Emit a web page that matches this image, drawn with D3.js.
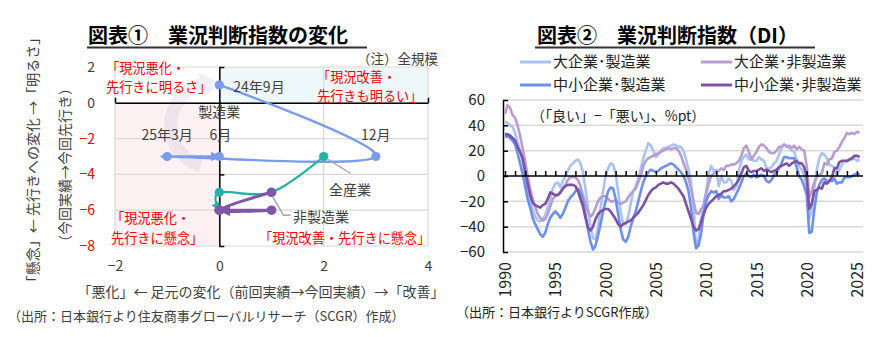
<!DOCTYPE html>
<html>
<head>
<meta charset="utf-8">
<script src="https://cdn.jsdelivr.net/npm/d3@7"></script>
<style>
  body { margin: 0; background: #fff; }
  svg text { font-family: "Noto Sans CJK JP", "Noto Sans", sans-serif; }
</style>
</head>
<body>
<svg id="chart" width="885" height="337"></svg>
<script>
// ---------- 図表① data: change in DI (x: current change, y: outlook change) ----------
const periods = ["24年9月", "12月", "25年3月", "6月"];
const mfgNow = [0, 3, -1, 0];
const mfgAhead = [1, -3, -3, -3];
const allNow = [2, 1, 0, 0];
const allAhead = [-3, -5, -5, -6];
const nonMfgNow = [1, 0, 1, 0];
const nonMfgAhead = [-5, -6, -6, -6];
const leftXTicks = [-2, 0, 2, 4];
const leftYTicks = [2, 0, -2, -4, -6, -8];

// ---------- 図表② data: quarterly business conditions DI, 1990Q1 - 2025Q2 ----------
const firstYear = 1990;
const largeMfg = [
  43, 42, 40, 39,   34, 27, 20, 12,   1, -10, -19, -26,   -32, -35, -36, -34,
  -31, -25, -18, -10,   -6, -5, -9, -4,   0, 4, 8, 10,   12, 13, 10, 3,
  -10, -25, -40, -49,   -50, -40, -25, -12,   0, 6, 10, 9,   2, -12, -28, -38,
  -38, -32, -22, -12,   -8, -2, 6, 14,   20, 26, 24, 20,   15, 17, 20, 22,
  22, 23, 24, 25,   24, 23, 23, 20,   13, 5, -5, -24,   -57, -50, -33, -22,
  -12, 2, 8, 4,   5, -8, 0, -5,   -5, -2, -4, -11,   -8, 4, 12, 15,
  17, 13, 13, 12,   12, 15, 13, 12,   6, 6, 7, 10,   12, 17, 22, 25,
  24, 22, 20, 19,   13, 8, 5, 0,   -8, -34, -27, -10,   5, 14, 18, 17,
  14, 9, 8, 7,   1, 5, 9, 12,   11, 13, 13, 14,   12, 13
];
const largeNonMfg = [
  49, 56, 54, 48,   46, 40, 32, 22,   12, 0, -10, -18,   -24, -30, -33, -35,
  -34, -30, -24, -18,   -16, -15, -13, -10,   -7, -3, -1, -1,   -1, -3, -8, -15,
  -22, -28, -32, -30,   -25, -20, -17, -16,   -16, -18, -20, -20,   -19, -21, -22, -21,
  -20, -17, -14, -12,   -10, -5, 0, 8,   12, 14, 15, 16,   17, 18, 19, 20,
  21, 22, 21, 22,   22, 20, 16, 10,   5, -2, -10, -20,   -29, -30, -26, -24,
  -14, -6, 0, 2,   3, 4, 6, 5,   8, 8, 9, 9,   10, 12, 16, 22,
  24, 19, 13, 16,   19, 23, 25, 24,   22, 19, 18, 18,   20, 23, 23, 25,
  23, 24, 22, 24,   21, 23, 21, 20,   8, -17, -12, -5,   -1, 1, 2, 10,
  9, 13, 14, 19,   20, 23, 27, 30,   34, 33, 34, 33,   35, 34
];
const smallMfg = [
  31, 32, 30, 28,   25, 18, 10, 2,   -8, -18, -25, -33,   -38, -42, -46, -48,
  -45, -38, -33, -30,   -28, -30, -33, -30,   -25, -20, -17, -15,   -12, -10, -13, -20,
  -30, -42, -52, -58,   -55, -47, -38, -28,   -20, -12, -9, -10,   -18, -30, -42, -50,
  -52, -48, -40, -33,   -28, -20, -12, -5,   0, 3, 5, 4,   3, 4, 6, 7,
  8, 9, 10, 9,   7, 5, 3, 0,   -5, -12, -25, -45,   -57, -55, -45, -30,
  -20, -15, -12, -13,   -12, -18, -15, -17,   -17, -16, -20, -18,   -14, -10, -5, 0,
  2, 0, -1, 1,   -1, 0, 1, 0,   -4, -5, -3, 1,   3, 6, 10, 15,
  15, 14, 14, 14,   7, 0, -3, -8,   -15, -45, -44, -27,   -13, -7, -3, -2,
  -4, -4, -4, -2,   -6, -5, -5, -1,   -1, -1, 0, 1,   2, 1
];
const smallNonMfg = [
  33, 33, 32, 30,   28, 23, 19, 14,   4, -6, -15, -21,   -23, -24, -25, -23,
  -22, -18, -13, -14,   -15, -15, -13, -10,   -8, -7, -7, -7,   -8, -12, -18, -24,
  -33, -41, -43, -40,   -34, -30, -28, -27,   -26, -26, -28, -31,   -34, -38, -40, -38,
  -37, -36, -35, -33,   -31, -29, -26, -23,   -19, -15, -12, -10,   -9, -7, -6, -5,
  -6, -6, -5, -6,   -8, -10, -13, -16,   -22, -28, -34, -40,   -43, -42, -36, -30,
  -25, -22, -20, -18,   -16, -15, -14, -12,   -12, -11, -10, -8,   -6, -3, 2, 7,
  8, 4, 3, 4,   4, 5, 6, 4,   5, 4, 3, 4,   5, 7, 8, 9,
  10, 8, 10, 11,   12, 10, 10, 7,   -1, -26, -22, -12,   -11, -9, -10, -5,
  -6, -4, -1, 6,   6, 11, 12, 12,   12, 13, 14, 16,   16, 15
];
const rightYTicks = [-60, -40, -20, 0, 20, 40, 60];
const yearLabels = [1990, 1995, 2000, 2005, 2010, 2015, 2020, 2025];

const svg = d3.select("#chart");
const INK = "#404040";
const RED = "#ff0000";
const GRID = "#d9d9d9";

function txt(g, x, y, s, opt = {}) {
  return g.append("text")
    .attr("x", x).attr("y", y)
    .attr("dy", "0.35em")
    .attr("text-anchor", opt.anchor || "start")
    .attr("font-size", opt.size || 14)
    .attr("font-weight", opt.weight || 400)
    .attr("fill", opt.color || INK)
    .text(s);
}

// ======================= 図表① =======================
const xL = d3.scaleLinear().domain([-2, 4]).range([115, 428]);
const yL = d3.scaleLinear().domain([-8, 2]).range([246, 67]);
const gL = svg.append("g");

// quadrant tints
gL.append("rect")
  .attr("x", xL(0)).attr("y", yL(2))
  .attr("width", xL(4) - xL(0)).attr("height", yL(0) - yL(2))
  .attr("fill", "#eef8fb");
gL.append("rect")
  .attr("x", xL(-2)).attr("y", yL(0))
  .attr("width", xL(0) - xL(-2)).attr("height", yL(-8) - yL(0))
  .attr("fill", "#fdf1f3");

// faint rotation arrow in the background
const ringX = xL(-0.12), ringY = yL(-1.25);
const ringArc = d3.arc().innerRadius(36).outerRadius(49).startAngle(-2.85).endAngle(-0.28);
gL.append("path")
  .attr("transform", `translate(${ringX},${ringY})`)
  .attr("d", ringArc())
  .attr("fill", "#b9a6cf").attr("opacity", 0.18);
{
  const a0 = -0.28, a1 = 0.18;
  const pt = (a, r) => [ringX + r * Math.sin(a), ringY - r * Math.cos(a)];
  const head = [pt(a0, 30), pt(a0, 55), pt(a1, 42.5)];
  gL.append("path")
    .attr("d", "M" + head.map(p => p.join(",")).join("L") + "Z")
    .attr("fill", "#b9a6cf").attr("opacity", 0.18);
}

// gridlines
gL.selectAll(".gx").data(leftXTicks).join("line")
  .attr("x1", d => xL(d)).attr("x2", d => xL(d))
  .attr("y1", yL(2)).attr("y2", yL(-8))
  .attr("stroke", GRID).attr("stroke-width", 1.2);
gL.selectAll(".gy").data(leftYTicks).join("line")
  .attr("x1", xL(-2)).attr("x2", xL(4))
  .attr("y1", d => yL(d)).attr("y2", d => yL(d))
  .attr("stroke", GRID).attr("stroke-width", 1.2);

// axes crossing at the origin
gL.append("g")
  .attr("transform", `translate(0,${yL(0)})`)
  .call(d3.axisTop(xL).tickValues([-2, 4]).tickSize(5).tickSizeOuter(0).tickFormat(""))
  .call(g => g.selectAll("path,line").attr("stroke", "#000").attr("stroke-width", 1.5));
gL.append("g")
  .attr("transform", `translate(${xL(0)},0)`)
  .call(d3.axisRight(yL).tickValues([2, -4, -8]).tickSize(5).tickSizeOuter(0).tickFormat(""))
  .call(g => g.selectAll("path,line").attr("stroke", "#000").attr("stroke-width", 1.5));

// tick labels
gL.append("g")
  .attr("transform", `translate(${xL(-2)},0)`)
  .call(d3.axisLeft(yL).tickValues(leftYTicks).tickSize(0).tickPadding(20).tickFormat(d3.format("d")))
  .call(g => g.select(".domain").remove())
  .call(g => g.selectAll("text")
    .attr("font-size", 14)
    .attr("font-family", "\"Noto Sans CJK JP\", sans-serif")
    .attr("fill", d => d < 0 ? RED : INK));
gL.append("g")
  .attr("transform", `translate(0,${yL(-8)})`)
  .call(d3.axisBottom(xL).tickValues(leftXTicks).tickSize(0).tickPadding(15).tickFormat(d3.format("d")))
  .call(g => g.select(".domain").remove())
  .call(g => g.selectAll("text")
    .attr("font-size", 14)
    .attr("font-family", "\"Noto Sans CJK JP\", sans-serif")
    .attr("fill", INK));

// arrowheads for the series paths
const defs = svg.append("defs");
function arrowHead(id, color) {
  defs.append("marker")
    .attr("id", id).attr("viewBox", "0 0 10 10")
    .attr("refX", 9).attr("refY", 5)
    .attr("markerWidth", 4).attr("markerHeight", 4)
    .attr("orient", "auto")
    .attr("markerUnits", "strokeWidth")
    .append("path").attr("d", "M0,0L10,5L0,10Z").attr("fill", color);
}
const cMfg = "#7b9bef", cAll = "#22b3a3", cNon = "#7f56a9";
arrowHead("arMfg", cMfg);
arrowHead("arAll", cAll);
arrowHead("arNon", cNon);

const lineL = d3.line().x(d => xL(d[0])).y(d => yL(d[1])).curve(d3.curveCardinal.tension(0));
function scatterSeries(xs, ys, color, width, arrowId, r) {
  const pts = xs.map((x, i) => [x, ys[i]]);
  gL.append("path")
    .attr("d", lineL(pts))
    .attr("fill", "none").attr("stroke", color)
    .attr("stroke-width", width).attr("stroke-linecap", "round")
    .attr("marker-end", `url(#${arrowId})`);
  gL.selectAll(null).data(pts).join("circle")
    .attr("cx", d => xL(d[0])).attr("cy", d => yL(d[1]))
    .attr("r", r).attr("fill", color);
  return pts;
}
const mfgPts = scatterSeries(mfgNow, mfgAhead, cMfg, 2.4, "arMfg", 4.6);
const allPts = scatterSeries(allNow, allAhead, cAll, 2.2, "arAll", 4.6);
const nonPts = scatterSeries(nonMfgNow, nonMfgAhead, cNon, 3, "arNon", 4.8);

// leader lines to the series names
gL.append("path")
  .attr("d", `M${xL(allPts[0][0]) + 3},${yL(allPts[0][1]) + 2}L${xL(allPts[0][0]) + 27},${yL(allPts[0][1]) + 17}`)
  .attr("stroke", "#a6a6a6").attr("stroke-width", 1.4).attr("fill", "none");
gL.append("path")
  .attr("d", `M${xL(nonPts[0][0]) + 1},${yL(nonPts[0][1]) + 4}L${xL(nonPts[0][0]) + 12},${yL(nonPts[0][1]) + 23}L${xL(nonPts[0][0]) + 19},${yL(nonPts[0][1]) + 23}`)
  .attr("stroke", "#a6a6a6").attr("stroke-width", 1.4).attr("fill", "none");

// point and series labels
txt(gL, xL(mfgPts[0][0]) + 14, yL(mfgPts[0][1]) + 2, periods[0]);
txt(gL, xL(0), 112, "製造業", { anchor: "middle" });
txt(gL, xL(mfgPts[2][0]), 135, periods[2], { anchor: "middle" });
txt(gL, xL(mfgPts[3][0]) + 1, 135, periods[3], { anchor: "middle" });
txt(gL, xL(mfgPts[1][0]), 135, periods[1], { anchor: "middle" });
txt(gL, 329, 190, "全産業");
txt(gL, 293, 217, "非製造業");

// quadrant captions
const cap = { color: RED, size: 13.2 };
txt(gL, 106, 68, "「現況悪化・", cap);
txt(gL, 106, 87, "先行きに明るさ」", cap);
txt(gL, 317, 77, "「現況改善・", cap);
txt(gL, 317, 96.5, "先行きも明るい」", cap);
txt(gL, 111, 218, "「現況悪化・", cap);
txt(gL, 111, 238, "先行きに懸念」", cap);
txt(gL, 259, 238, "「現況改善・先行きに懸念」", cap);
txt(gL, 438, 59, "（注）全規模", { anchor: "end", size: 13.5 });

// axis titles
gL.append("text")
  .attr("transform", "translate(33,160) rotate(-90)")
  .attr("text-anchor", "middle").attr("dy", "0.35em")
  .attr("font-size", 14).attr("fill", INK)
  .text("「懸念」← 先行きへの変化 →「明るさ」");
gL.append("text")
  .attr("transform", "translate(65,165) rotate(-90)")
  .attr("text-anchor", "middle").attr("dy", "0.35em")
  .attr("font-size", 14).attr("fill", INK)
  .text("（今回実績→今回先行き）");
txt(gL, 261, 292, "「悪化」← 足元の変化（前回実績→今回実績）→「改善」", { anchor: "middle" });
txt(gL, 8, 316, "（出所：日本銀行より住友商事グローバルリサーチ（SCGR）作成）", { size: 13 });

// title
txt(gL, 88, 36, "図表①　業況判断指数の変化", { size: 20, weight: 700, color: "#000" });
gL.append("line").attr("x1", 87).attr("x2", 367).attr("y1", 47.5).attr("y2", 47.5)
  .attr("stroke", "#333").attr("stroke-width", 2);

// ======================= 図表② =======================
const gR = svg.append("g");
const xR = d3.scaleLinear().domain([1990, 2025]).range([505, 857]);
const yR = d3.scaleLinear().domain([-60, 60]).range([252, 100]);
const plotL = 503, plotR = 863;

// horizontal gridlines
gR.selectAll(".g").data(rightYTicks.filter(d => d !== 0)).join("line")
  .attr("x1", plotL).attr("x2", plotR)
  .attr("y1", d => yR(d)).attr("y2", d => yR(d))
  .attr("stroke", GRID).attr("stroke-width", 1.5);

// value axis
gR.append("g")
  .attr("transform", `translate(${plotL},0)`)
  .call(d3.axisLeft(yR).tickValues(rightYTicks).tickSize(-5).tickSizeOuter(0).tickPadding(18))
  .call(g => g.selectAll("path,line").attr("stroke", "#000").attr("stroke-width", 1.5))
  .call(g => g.selectAll("text")
    .attr("font-size", 15)
    .attr("font-family", "\"Noto Sans CJK JP\", sans-serif")
    .attr("fill", "#222"));

// series lines
const seriesR = [
  { name: "大企業･製造業", values: largeMfg, color: "#a9c3f7" },
  { name: "大企業･非製造業", values: largeNonMfg, color: "#b89dd0" },
  { name: "中小企業･製造業", values: smallMfg, color: "#6d8ff2" },
  { name: "中小企業･非製造業", values: smallNonMfg, color: "#7d52a6" }
];
const lineR = d3.line()
  .x((d, i) => xR(firstYear + i / 4))
  .y(d => yR(d));
seriesR.forEach(s => {
  gR.append("path")
    .attr("d", lineR(s.values))
    .attr("fill", "none").attr("stroke", s.color)
    .attr("stroke-width", 2.6).attr("stroke-linejoin", "round");
});

// zero line with yearly ticks
gR.append("line")
  .attr("x1", plotL).attr("x2", plotR)
  .attr("y1", yR(0)).attr("y2", yR(0))
  .attr("stroke", "#000").attr("stroke-width", 1.5);
gR.append("g")
  .attr("transform", `translate(0,${yR(0)})`)
  .call(d3.axisBottom(xR).tickValues(d3.range(1990, 2026)).tickSize(-5).tickSizeOuter(0).tickFormat(""))
  .call(g => g.select(".domain").remove())
  .call(g => g.selectAll("line").attr("stroke", "#000").attr("stroke-width", 1.5));

// year labels
gR.append("g")
  .attr("transform", `translate(0,${yR(-60)})`)
  .call(d3.axisBottom(xR).tickValues(yearLabels).tickSize(0).tickFormat(d3.format("d")))
  .call(g => g.select(".domain").remove())
  .call(g => g.selectAll("text")
    .attr("transform", "rotate(-90)")
    .attr("x", -10).attr("y", 0).attr("dy", "0.35em")
    .attr("text-anchor", "end")
    .attr("font-size", 16)
    .attr("font-family", "\"Noto Sans CJK JP\", sans-serif")
    .attr("fill", "#222"));

// unit note
txt(gR, 531, 116, "（「良い」−「悪い」、%pt）", { size: 14, color: "#222" });

// legend
const legendPos = [[520, 62], [701, 62], [520, 85], [701, 85]];
seriesR.forEach((s, i) => {
  const [lx, ly] = legendPos[i];
  gR.append("line").attr("x1", lx).attr("x2", lx + 31).attr("y1", ly).attr("y2", ly)
    .attr("stroke", s.color).attr("stroke-width", 3);
  txt(gR, lx + 33, ly, s.name, { size: 15, color: "#222" });
});

// title and source
txt(gR, 537, 36, "図表②　業況判断指数（DI）", { size: 20, weight: 700, color: "#000" });
gR.append("line").attr("x1", 535).attr("x2", 815).attr("y1", 47.5).attr("y2", 47.5)
  .attr("stroke", "#333").attr("stroke-width", 2);
txt(gR, 456, 312, "（出所：日本銀行よりSCGR作成）", { size: 13, color: "#222" });
</script>
</body>
</html>
